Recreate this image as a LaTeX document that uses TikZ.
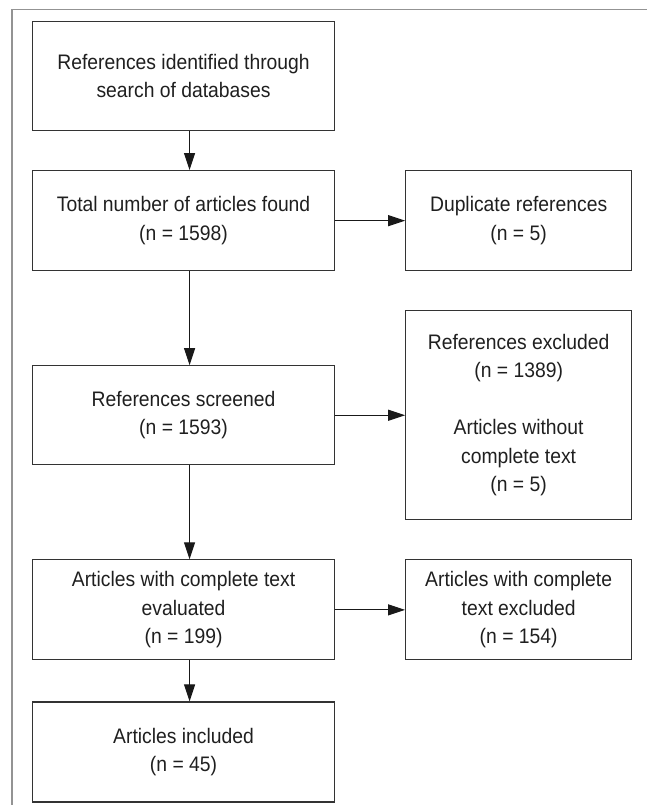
\documentclass[tikz,border=0pt]{standalone}
\usepackage{fontspec}
\setmainfont{Liberation Sans}[FakeStretch=0.92]
\usepackage{tikz}
\usetikzlibrary{positioning,arrows.meta}

\begin{document}
\begin{tikzpicture}[x=1pt,y=-1pt,
    box/.style={rectangle,draw=black!80,line width=1.1pt,text=black!88,align=center,
      inner sep=2pt,font=\fontsize{21pt}{28.5pt}\selectfont},
    leftbox/.style={box,minimum width=302pt,minimum height=100pt},
    rightbox/.style={box,minimum width=226pt,minimum height=100pt},
    arr/.style={draw=black!90,line width=1.1pt,-{Triangle[length=17pt,width=11pt]}}]
    \useasboundingbox (0,0) rectangle (647,805);

    % Outer frame (only top and left edges show)
    \draw[gray!85,line width=1.8pt] (12,805) |- (647,9.5);

    % Main column
    \node[leftbox,minimum height=109pt,anchor=north west] (search) at (32,21)
        {References identified through\\search of databases};
    \node[leftbox] (total) [below=39pt of search]
        {Total number of articles found\\(n = 1598)};
    \node[leftbox,minimum height=99pt] (screened) [below=94pt of total]
        {References screened\\(n = 1593)};
    \node[leftbox] (evaluated) [below=94pt of screened]
        {Articles with complete text\\evaluated\\(n = 199)};
    \node[leftbox] (included) [below=41pt of evaluated]
        {Articles included\\(n = 45)};

    % Excluded records
    \node[rightbox] (duplicates) [right=70pt of total]
        {Duplicate references\\(n = 5)};
    \node[rightbox,minimum height=209pt] (excluded) [right=70pt of screened]
        {References excluded\\(n = 1389)\\[28.5pt]Articles without\\complete text\\(n = 5)};
    \node[rightbox] (text_excluded) [right=70pt of evaluated]
        {Articles with complete\\text excluded\\(n = 154)};

    \draw[arr] ([xshift=6pt]search.south) -- ([xshift=6pt]total.north);
    \draw[arr] ([xshift=6pt]total.south) -- ([xshift=6pt]screened.north);
    \draw[arr] ([xshift=6pt]screened.south) -- ([xshift=6pt]evaluated.north);
    \draw[arr] ([xshift=6pt]evaluated.south) -- ([xshift=6pt]included.north);

    \draw[arr] (total.east) -- (duplicates.west);
    \draw[arr] (screened.east) -- (excluded.west);
    \draw[arr] (evaluated.east) -- (text_excluded.west);
\end{tikzpicture}
\end{document}
